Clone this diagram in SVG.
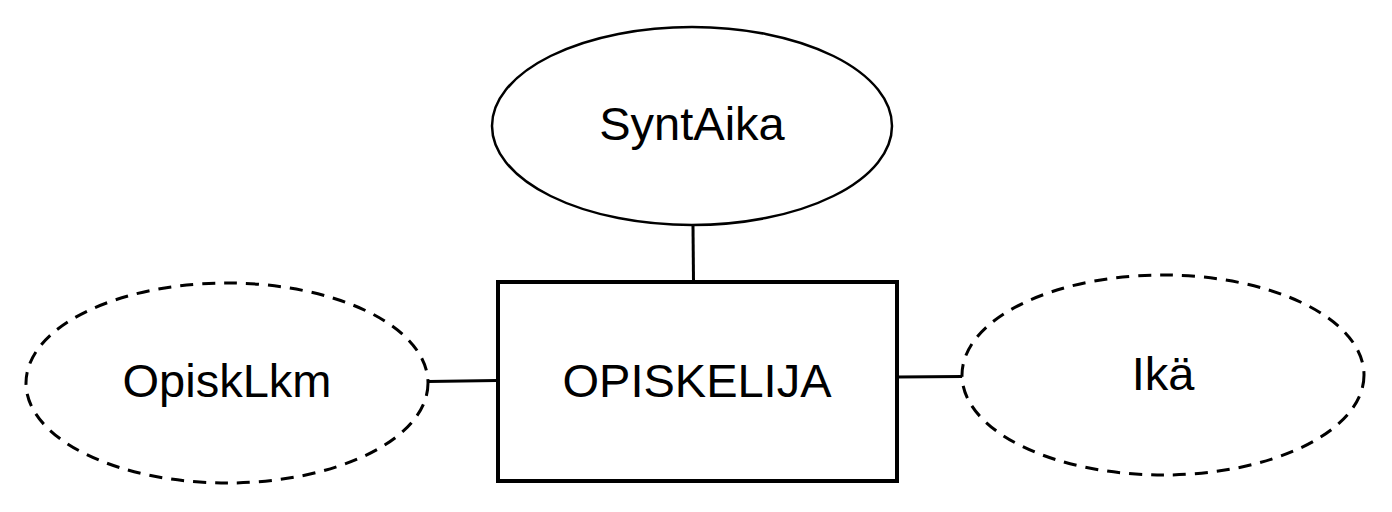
<svg xmlns="http://www.w3.org/2000/svg" width="1392" height="512" viewBox="0 0 1392 512">
<style>
.shape{fill:#fff;stroke:#000;stroke-width:2.5}
.dashed{stroke-width:3;stroke-dasharray:13 9}
.ent{fill:#fff;stroke:#000;stroke-width:4}
.lbl{font-family:"Liberation Sans",Arial,sans-serif;font-size:47px;fill:#000;text-anchor:middle}
.conn{stroke:#000;stroke-width:3;fill:none}
</style>
<rect width="1392" height="512" fill="#fff"/>
<g id="connectors">
<line class="conn" x1="693" y1="226" x2="693.5" y2="281"/>
<line class="conn" x1="428" y1="381.5" x2="497" y2="380.5"/>
<line class="conn" x1="897" y1="377" x2="963" y2="376.5"/>
</g>
<g id="syntaika">
<ellipse class="shape" cx="692" cy="126" rx="200" ry="99"/>
<text class="lbl" x="692" y="140">SyntAika</text>
</g>
<g id="opiskelija">
<rect class="ent" x="498" y="282" width="399" height="199"/>
<text class="lbl" x="697" y="397">OPISKELIJA</text>
</g>
<g id="opisklkm">
<ellipse class="shape dashed" cx="227" cy="383" rx="201" ry="100"/>
<text class="lbl" x="227" y="397">OpiskLkm</text>
</g>
<g id="ika">
<ellipse class="shape dashed" cx="1163" cy="375" rx="201" ry="100"/>
<text class="lbl" x="1163" y="390">Ikä</text>
</g>
</svg>
